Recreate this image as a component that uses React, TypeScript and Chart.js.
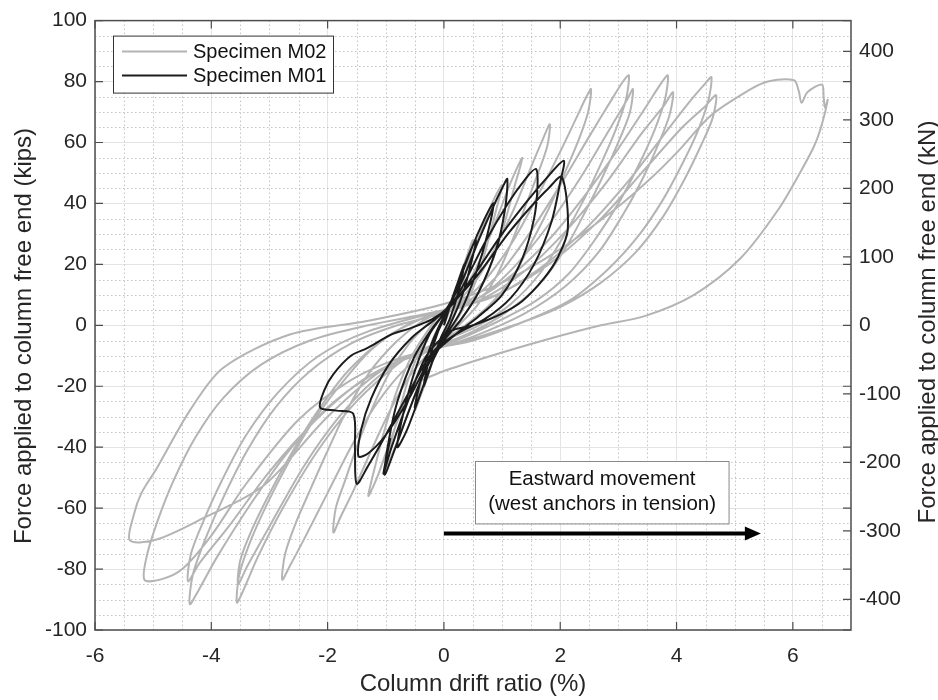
import React, { useEffect, useRef } from "react";
import { Chart, registerables } from "chart.js";

Chart.register(...registerables);

const FONT = "'Liberation Sans', Arial, Helvetica, sans-serif";
const KIP_TO_KN = 4.44822;

// axis ticks
const xTicks = [-6, -4, -2, 0, 2, 4, 6];
const kipTicks = [-100, -80, -60, -40, -20, 0, 20, 40, 60, 80, 100];
const knTicks = [-400, -300, -200, -100, 0, 100, 200, 300, 400];

// Specimen M02 (gray) hysteresis, [drift %, force kips]
const m02Cycle1 = [[0,0],[0.1,5],[0.2,11],[0.3,17],[0.4,23],[0.5,28],[0.42,21],[0.32,13],[0.2,5],[0.05,-1],[-0.1,-6],[-0.2,-12],[-0.3,-18],[-0.4,-23],[-0.5,-28],[-0.42,-21],[-0.32,-13],[-0.2,-5],[-0.05,1]];
const m02Cycle2 = [[0.1,6],[0.3,14],[0.5,24],[0.7,34],[0.85,41],[1.0,46],[0.9,38],[0.75,27],[0.6,17],[0.4,8],[0.2,1],[0,-4],[-0.2,-10],[-0.4,-18],[-0.6,-28],[-0.8,-38],[-1.0,-47],[-0.9,-38],[-0.75,-27],[-0.6,-17],[-0.4,-8],[-0.2,-1],[0,4]];
const m02Cycle3 = [[0.2,8],[0.45,15],[0.7,25],[0.95,37],[1.15,47],[1.35,55],[1.22,46],[1.05,34],[0.85,22],[0.6,11],[0.3,2],[0,-4],[-0.25,-10],[-0.5,-18],[-0.75,-29],[-1.0,-42],[-1.15,-50],[-1.3,-56],[-1.18,-46],[-1.0,-33],[-0.8,-21],[-0.55,-10],[-0.25,-1],[0,5]];
const m02Cycle4 = [[0.3,9],[0.6,16],[0.9,26],[1.2,38],[1.5,52],[1.7,61],[1.82,66],[1.78,59],[1.62,50],[1.42,40],[1.18,28],[0.9,16],[0.55,6],[0.2,-1],[0,-5],[-0.3,-10],[-0.6,-17],[-0.9,-27],[-1.2,-39],[-1.55,-54],[-1.78,-63],[-1.9,-68],[-1.86,-60],[-1.7,-51],[-1.5,-40],[-1.25,-28],[-0.95,-16],[-0.6,-6],[-0.25,1],[0,5]];
const m02Cycle5 = [[0.4,9],[0.8,17],[1.2,28],[1.6,42],[2.0,57],[2.3,69],[2.45,75],[2.53,77.5],[2.48,70],[2.32,61],[2.1,51],[1.82,39],[1.5,27],[1.15,15],[0.75,6],[0.3,-1],[0,-5],[-0.4,-10],[-0.8,-17],[-1.2,-27],[-1.6,-40],[-2.0,-55],[-2.4,-70],[-2.65,-79],[-2.78,-83.5],[-2.73,-75],[-2.55,-65],[-2.3,-54],[-2.02,-42],[-1.7,-29],[-1.3,-16],[-0.85,-6],[-0.4,1],[0,5]];
const m02Cycle6 = [[0.5,9],[1.0,18],[1.5,31],[2.0,46],[2.5,62],[2.85,73],[3.08,80],[3.18,82],[3.13,74],[2.95,64],[2.7,53],[2.4,41],[2.05,29],[1.65,17],[1.15,7],[0.6,0],[0,-5],[-0.5,-9],[-1.0,-16],[-1.6,-27],[-2.2,-42],[-2.8,-61],[-3.2,-76],[-3.45,-87],[-3.56,-91],[-3.52,-82],[-3.33,-71],[-3.05,-59],[-2.7,-46],[-2.3,-33],[-1.8,-20],[-1.25,-8],[-0.65,0],[0,5]];
const m02Cycle6b = [[0.6,9],[1.2,19],[1.8,33],[2.4,50],[2.9,66],[3.15,74],[3.25,77.5],[3.2,70],[3.02,61],[2.76,50],[2.45,38],[2.08,25],[1.62,13],[1.05,4],[0.5,-2],[0,-6],[-0.6,-10],[-1.2,-18],[-1.8,-30],[-2.4,-46],[-3.0,-66],[-3.38,-79],[-3.54,-85],[-3.5,-77],[-3.3,-67],[-3.02,-56],[-2.65,-43],[-2.2,-29],[-1.65,-15],[-1.0,-4],[-0.4,2],[0,5]];
const m02Cycle7 = [[0.6,9],[1.2,17],[1.8,28],[2.4,42],[3.0,58],[3.45,71],[3.72,79],[3.85,82],[3.8,74],[3.62,64],[3.36,53],[3.03,41],[2.63,29],[2.15,17],[1.58,8],[0.9,1],[0.2,-5],[-0.6,-10],[-1.3,-17],[-2.0,-27],[-2.7,-42],[-3.3,-58],[-3.9,-76],[-4.22,-87],[-4.37,-91.5],[-4.32,-82],[-4.1,-70],[-3.78,-56],[-3.38,-41],[-2.9,-27],[-2.3,-15],[-1.6,-6],[-0.8,0],[0,4]];
const m02Cycle7b = [[0.7,9],[1.4,18],[2.1,31],[2.8,47],[3.4,63],[3.78,72],[3.94,76.5],[3.88,69],[3.7,60],[3.44,49],[3.1,37],[2.66,24],[2.1,13],[1.4,4],[0.6,-3],[0,-7],[-0.7,-11],[-1.4,-18],[-2.2,-31],[-3.0,-48],[-3.7,-66],[-4.2,-78],[-4.4,-84],[-4.35,-75],[-4.13,-64],[-3.82,-51],[-3.4,-36],[-2.85,-22],[-2.15,-10],[-1.3,-2],[0,5]];
const m02Cycle8 = [[0.8,9],[1.6,18],[2.4,31],[3.2,48],[3.8,63],[4.25,74],[4.5,79.5],[4.6,81.4],[4.55,74],[4.37,64],[4.1,53],[3.76,41],[3.33,29],[2.8,18],[2.15,8],[1.35,1],[0.5,-5],[0,-7],[-0.8,-11],[-1.6,-18],[-2.5,-31],[-3.4,-52],[-4.0,-69],[-4.5,-80],[-4.85,-83.3],[-5.15,-83.5],[-5.1,-75],[-4.92,-64],[-4.65,-51],[-4.28,-37],[-3.8,-24],[-3.15,-13],[-2.3,-5],[-1.3,0],[0,5]];
const m02Cycle8b = [[0.9,10],[1.8,20],[2.7,35],[3.4,50],[4.1,65],[4.5,72],[4.68,75.5],[4.62,68],[4.42,59],[4.14,48],[3.78,36],[3.3,24],[2.7,14],[2.0,6],[1.2,0],[0.4,-5],[0,-7],[-1.0,-14],[-2.0,-30],[-3.1,-52.6],[-4.15,-63.4],[-4.94,-70.3],[-5.4,-70.6],[-5.33,-62],[-5.2,-55],[-4.94,-47],[-4.37,-28],[-3.8,-14],[-2.65,-3],[-1.3,1.5],[0,7]];
const m02Cycle9 = [[1.0,14],[2.0,25],[3.0,39],[3.6,49],[4.02,57],[4.6,69],[5.23,77],[5.57,80],[6.02,80.4],[6.1,77],[6.15,73],[6.25,76.5],[6.5,79],[6.53,75],[6.55,71.5],[6.6,74],[6.5,66],[6.37,59],[6.15,51],[5.75,38],[5.1,22],[4.3,10],[3.45,3],[2.7,0],[1.8,-4.5],[0.9,-9.5],[0,-15],[-0.5,-19]];

// Specimen M01 (black) hysteresis
const m01Cycle1 = [[0,0],[0.15,9],[0.35,20],[0.25,11],[0.1,2],[-0.05,-4],[-0.2,-12],[-0.35,-20],[-0.25,-11],[-0.1,-2],[0.05,4]];
const m01Cycle2 = [[0.2,12],[0.4,22],[0.55,28],[0.45,19],[0.3,9],[0.1,0],[-0.1,-7],[-0.3,-17],[-0.5,-27],[-0.4,-18],[-0.25,-8],[-0.05,1],[0.1,6]];
const m01Cycle3 = [[0.2,11],[0.45,24],[0.7,35],[0.85,40],[0.75,30],[0.55,17],[0.3,5],[0.05,-3],[-0.2,-12],[-0.45,-25],[-0.65,-35],[-0.8,-40],[-0.7,-29],[-0.5,-15],[-0.25,-3],[0,4]];
const m01Cycle4 = [[0.3,14],[0.6,28],[0.85,39],[1.0,45],[1.09,48],[1.05,38],[0.9,25],[0.6,11],[0.3,2],[0,-5],[-0.3,-14],[-0.6,-28],[-0.85,-41],[-1.02,-49],[-0.95,-38],[-0.8,-25],[-0.5,-10],[-0.2,-1],[0.1,6]];
const m01Cycle5 = [[0.3,12],[0.7,27],[1.1,40],[1.4,48],[1.58,51.3],[1.61,46],[1.55,35],[1.35,22],[1.0,10],[0.6,3],[0.2,-3],[-0.2,-10],[-0.6,-24],[-1.0,-36],[-1.3,-42],[-1.47,-43],[-1.42,-34],[-1.25,-24],[-0.95,-13],[-0.55,-4],[-0.15,2],[0.15,7]];
const m01Cycle6 = [[0.5,16],[1.0,30],[1.4,40],[1.75,48],[2.06,54],[2.0,47],[1.85,34],[1.55,20],[1.15,9],[0.7,2],[0.2,-3],[-0.2,-9],[-0.6,-22],[-1.0,-36],[-1.3,-46],[-1.5,-52],[-1.53,-40],[-1.56,-29],[-1.85,-28],[-2.13,-27],[-2.05,-21],[-1.9,-16],[-1.6,-10],[-1.32,-7.5],[-0.9,-3],[-0.58,-1],[-0.2,2],[0.06,5.6]];
const m01Cycle7 = [[0.6,17],[1.1,30],[1.5,39],[1.8,45],[2.03,48.7],[2.13,31.4],[1.95,22],[1.72,15.4],[1.35,8],[0.97,3.6],[0.5,0],[0.11,-2],[-0.3,-10],[-0.6,-24],[-0.9,-40],[-1.04,-48.7],[-0.92,-37]];

const m02Points = [m02Cycle1, m02Cycle2, m02Cycle3, m02Cycle4, m02Cycle5, m02Cycle6, m02Cycle6b, m02Cycle7, m02Cycle7b, m02Cycle8, m02Cycle8b, m02Cycle9].flat();
const m01Points = [m01Cycle1, m01Cycle2, m01Cycle3, m01Cycle4, m01Cycle5, m01Cycle6, m01Cycle7].flat();

const seriesNames = ["Specimen M02", "Specimen M01"];
const annotationLines = ["Eastward movement", "(west anchors in tension)"];
const yTitleLeft = "Force applied to column free end (kips)";
const yTitleRight = "Force applied to column free end (kN)";

const GRAY = "#b4b4b4";
const BLACK = "#1c1c1c";
const TEXT = "#262626";

const decorPlugin = {
  id: "decor",
  beforeDatasetsDraw(chart: any) {
    const { ctx, chartArea: a, scales } = chart;
    const x = scales.x, y = scales.y;
    ctx.save();
    ctx.beginPath();
    ctx.rect(a.left, a.top, a.right - a.left, a.bottom - a.top);
    ctx.clip();
    ctx.strokeStyle = "#c4c4c4";
    ctx.lineWidth = 1;
    ctx.setLineDash([1.5, 2.5]);
    for (let i = -12; i <= 14; i++) {
      if (i % 4 === 0) continue;
      const px = Math.round(x.getPixelForValue(i * 0.5)) + 0.5;
      ctx.beginPath();
      ctx.moveTo(px, a.top);
      ctx.lineTo(px, a.bottom);
      ctx.stroke();
    }
    for (let i = -20; i <= 20; i++) {
      if (i % 4 === 0) continue;
      const py = Math.round(y.getPixelForValue(i * 5)) + 0.5;
      ctx.beginPath();
      ctx.moveTo(a.left, py);
      ctx.lineTo(a.right, py);
      ctx.stroke();
    }
    ctx.restore();
  },
  afterDatasetsDraw(chart: any) {
    const { ctx, chartArea: a, scales } = chart;
    const x = scales.x, y = scales.y, yk = scales.yKN;
    ctx.save();
    ctx.strokeStyle = "#4d4d4d";
    ctx.lineWidth = 1.5;
    ctx.strokeRect(a.left, a.top, a.right - a.left, a.bottom - a.top);
    const tl = 8;
    ctx.lineWidth = 1.2;
    ctx.beginPath();
    xTicks.forEach((v) => {
      const px = x.getPixelForValue(v);
      ctx.moveTo(px, a.bottom); ctx.lineTo(px, a.bottom - tl);
      ctx.moveTo(px, a.top); ctx.lineTo(px, a.top + tl);
    });
    kipTicks.forEach((v) => {
      const py = y.getPixelForValue(v);
      ctx.moveTo(a.left, py); ctx.lineTo(a.left + tl, py);
      ctx.moveTo(a.right, py); ctx.lineTo(a.right - tl, py);
    });
    knTicks.forEach((v) => {
      const py = yk.getPixelForValue(v);
      ctx.moveTo(a.right, py); ctx.lineTo(a.right - tl, py);
    });
    ctx.stroke();

    // legend
    const lx = a.left + 18, ly = a.top + 15, lw = 220, lh = 57;
    ctx.fillStyle = "#ffffff";
    ctx.fillRect(lx, ly, lw, lh);
    ctx.strokeStyle = "#333333";
    ctx.lineWidth = 1;
    ctx.strokeRect(lx + 0.5, ly + 0.5, lw, lh);
    const rows = [
      { name: seriesNames[0], color: GRAY, yy: ly + 16 },
      { name: seriesNames[1], color: BLACK, yy: ly + 40 },
    ];
    ctx.font = `20px ${FONT}`;
    ctx.textBaseline = "middle";
    ctx.textAlign = "left";
    rows.forEach((r) => {
      ctx.strokeStyle = r.color;
      ctx.lineWidth = 2;
      ctx.beginPath();
      ctx.moveTo(lx + 9, r.yy);
      ctx.lineTo(lx + 74, r.yy);
      ctx.stroke();
      ctx.fillStyle = "#111111";
      ctx.fillText(r.name, lx + 80, r.yy + 1);
    });

    // annotation box
    const bx0 = x.getPixelForValue(0.54), bx1 = x.getPixelForValue(4.9);
    const by0 = y.getPixelForValue(-44.4), by1 = y.getPixelForValue(-64.9);
    ctx.fillStyle = "#ffffff";
    ctx.fillRect(bx0, by0, bx1 - bx0, by1 - by0);
    ctx.strokeStyle = "#8a8a8a";
    ctx.lineWidth = 1;
    ctx.strokeRect(Math.round(bx0) + 0.5, Math.round(by0) + 0.5, bx1 - bx0, by1 - by0);
    ctx.fillStyle = "#111111";
    ctx.font = `20.5px ${FONT}`;
    ctx.textAlign = "center";
    const cx = (bx0 + bx1) / 2;
    ctx.fillText(annotationLines[0], cx, by0 + 19);
    ctx.fillText(annotationLines[1], cx, by0 + 44);

    // arrow
    const ay = y.getPixelForValue(-68.3);
    const ax0 = x.getPixelForValue(0), ax1 = x.getPixelForValue(5.45);
    ctx.strokeStyle = "#000000";
    ctx.fillStyle = "#000000";
    ctx.lineWidth = 4;
    ctx.beginPath();
    ctx.moveTo(ax0, ay);
    ctx.lineTo(ax1 - 12, ay);
    ctx.stroke();
    ctx.beginPath();
    ctx.moveTo(ax1, ay);
    ctx.lineTo(ax1 - 16, ay - 7);
    ctx.lineTo(ax1 - 16, ay + 7);
    ctx.closePath();
    ctx.fill();
    ctx.restore();
  },
  afterDraw(chart: any) {
    const { ctx } = chart;
    ctx.save();
    ctx.font = `24px ${FONT}`;
    ctx.fillStyle = TEXT;
    ctx.textAlign = "center";
    ctx.textBaseline = "middle";
    ctx.translate(24, 336);
    ctx.rotate(-Math.PI / 2);
    ctx.fillText(yTitleLeft, 0, 0);
    ctx.restore();
    ctx.save();
    ctx.font = `24px ${FONT}`;
    ctx.fillStyle = TEXT;
    ctx.textAlign = "center";
    ctx.textBaseline = "middle";
    ctx.translate(928, 322);
    ctx.rotate(-Math.PI / 2);
    ctx.fillText(yTitleRight, 0, 0);
    ctx.restore();
  },
};

export default function App() {
  const ref = useRef<HTMLCanvasElement | null>(null);
  useEffect(() => {
    if (!ref.current) return;
    const chart = new Chart(ref.current, {
      type: "scatter",
      data: {
        datasets: [
          {
            label: seriesNames[1],
            data: m01Points.map(([px, py]) => ({ x: px, y: py })),
            showLine: true,
            borderColor: BLACK,
            backgroundColor: BLACK,
            borderWidth: 2,
            pointRadius: 0,
            tension: 0.3,
          },
          {
            label: seriesNames[0],
            data: m02Points.map(([px, py]) => ({ x: px, y: py })),
            showLine: true,
            borderColor: GRAY,
            backgroundColor: GRAY,
            borderWidth: 2,
            pointRadius: 0,
            tension: 0.3,
          },
        ],
      },
      options: {
        animation: false,
        responsive: false,
        devicePixelRatio: 1,
        layout: { padding: { top: 18, left: 0, right: 0, bottom: 0 } },
        plugins: { legend: { display: false }, tooltip: { enabled: false } },
        scales: {
          x: {
            type: "linear",
            position: "bottom",
            min: -6,
            max: 7,
            afterBuildTicks: (s: any) => { s.ticks = xTicks.map((v) => ({ value: v })); },
            afterFit: (s: any) => { s.height = 70; },
            grid: { color: "#e4e4e4", lineWidth: 1, drawTicks: false },
            border: { display: false },
            ticks: { padding: 14, color: TEXT, font: { family: FONT, size: 21 }, maxRotation: 0, autoSkip: false },
            title: { display: true, text: "Column drift ratio (%)", color: TEXT, font: { family: FONT, size: 24 }, padding: { top: 0, bottom: 1 } },
          },
          y: {
            type: "linear",
            position: "left",
            min: -100,
            max: 100,
            afterBuildTicks: (s: any) => { s.ticks = kipTicks.map((v) => ({ value: v })); },
            afterFit: (s: any) => { s.width = 95; },
            grid: { color: "#e4e4e4", lineWidth: 1, drawTicks: false },
            border: { display: false },
            ticks: { padding: 8, color: TEXT, font: { family: FONT, size: 21 } },
            title: { display: false },
          },
          yKN: {
            type: "linear",
            position: "right",
            min: -100 * KIP_TO_KN,
            max: 100 * KIP_TO_KN,
            afterBuildTicks: (s: any) => { s.ticks = knTicks.map((v) => ({ value: v })); },
            afterFit: (s: any) => { s.width = 87; },
            grid: { display: false, drawTicks: false },
            border: { display: false },
            ticks: { padding: 8, color: TEXT, font: { family: FONT, size: 21 } },
          },
        },
      },
      plugins: [decorPlugin],
    });
    return () => chart.destroy();
  }, []);
  return (
    <div style={{ position: "fixed", left: 0, top: 0, width: 938, height: 700, background: "#ffffff" }}>
      <canvas ref={ref} width={938} height={700} style={{ display: "block" }} />
    </div>
  );
}
